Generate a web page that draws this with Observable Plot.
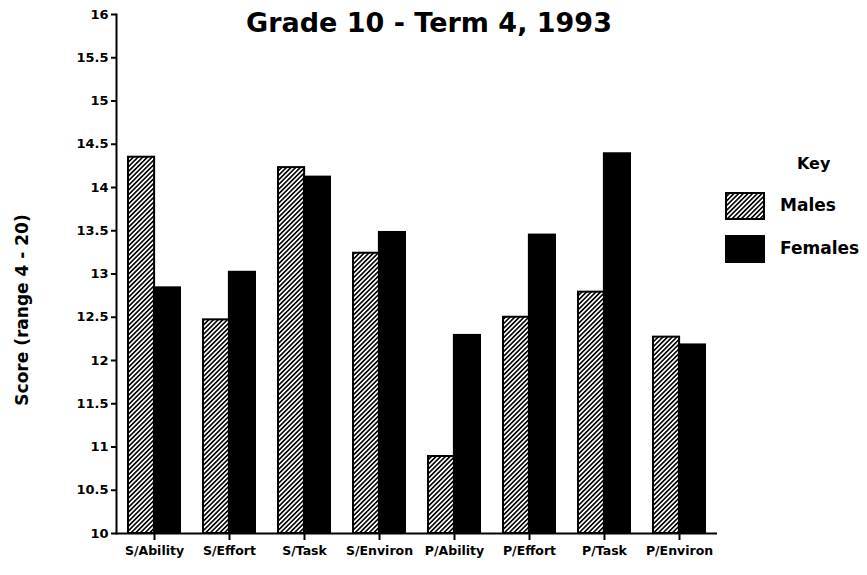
<!DOCTYPE html>
<html>
<head>
<meta charset="utf-8">
<script src="https://cdn.jsdelivr.net/npm/d3@7"></script>
<script src="https://cdn.jsdelivr.net/npm/@observablehq/plot@0.6"></script>
<style>
  html, body { margin: 0; padding: 0; background: #fff; }
  #wrap { position: relative; width: 867px; height: 575px; overflow: hidden; font-family: "DejaVu Sans", sans-serif; font-weight: bold; color: #000; }
  #title { position: absolute; top: 9px; left: 429px; transform: translateX(-50%); font-size: 27px; line-height: 1; white-space: nowrap; }
  #ylab { position: absolute; left: 22px; top: 310px; transform: translate(-50%, -50%) rotate(-90deg); font-size: 17px; line-height: 1; white-space: nowrap; }
  .lg { position: absolute; white-space: nowrap; line-height: 1; }
  #key { left: 797px; top: 156px; font-size: 16px; }
  .sw { position: absolute; left: 725px; width: 40px; height: 28px; }
  .lbl { left: 780px; font-size: 17px; }
</style>
</head>
<body>
<svg width="0" height="0" style="position:absolute">
  <defs>
    <pattern id="hatch" patternUnits="userSpaceOnUse" width="3.3" height="10" patternTransform="rotate(45)">
      <rect x="0" y="0" width="3.3" height="10" fill="#fff"></rect>
      <rect x="0" y="0" width="1.6" height="10" fill="#000"></rect>
    </pattern>
  </defs>
</svg>
<div id="wrap">
  <div id="chart"></div>
  <div id="title">Grade 10 - Term 4, 1993</div>
  <div id="ylab"></div>
  <div id="key" class="lg">Key</div>
  <svg class="sw" style="top:192px" width="40" height="28"><rect x="1" y="1" width="38" height="26" fill="url(#hatch)" stroke="#000" stroke-width="2"></rect></svg>
  <div class="lg lbl" style="top:197px">Males</div>
  <svg class="sw" style="top:235px" width="40" height="28"><rect x="1" y="1" width="38" height="26" fill="#000" stroke="#000" stroke-width="2"></rect></svg>
  <div class="lg lbl" style="top:240px">Females</div>
</div>
<script>
const categories = ["S/Ability", "S/Effort", "S/Task", "S/Environ", "P/Ability", "P/Effort", "P/Task", "P/Environ"];
const males   = [14.35, 12.47, 14.23, 13.24, 10.89, 12.50, 12.79, 12.27];
const females = [12.84, 13.02, 14.12, 13.48, 12.29, 13.45, 14.39, 12.18];
const yTicks = [10, 10.5, 11, 11.5, 12, 12.5, 13, 13.5, 14, 14.5, 15, 15.5, 16];
const yLabel = "Score (range 4 - 20)";

document.getElementById("ylab").textContent = yLabel;

const data = categories.map((c, i) => ({cat: c, male: males[i], female: females[i]}));

const W = 867, H = 575;
const mL = 116, mR = 150, mT = 14, mB = 42;
const padIn = 0.31, padOut = 0.16;
const bw = d3.scaleBand().domain(categories).range([mL, W - mR]).paddingInner(padIn).paddingOuter(padOut).bandwidth();

const plot = Plot.plot({
  width: W, height: H,
  marginLeft: mL, marginRight: mR, marginTop: mT, marginBottom: mB,
  style: {fontFamily: "DejaVu Sans, sans-serif", fontWeight: "bold", color: "#000", background: "transparent"},
  x: {domain: categories, paddingInner: padIn, paddingOuter: padOut, label: null},
  y: {domain: [10, 16], label: null},
  marks: [
    Plot.barY(data, {x: "cat", y1: 10, y2: "male", insetRight: bw / 2, fill: "url(#hatch)", stroke: "#000", strokeWidth: 2}),
    Plot.barY(data, {x: "cat", y1: 10, y2: "female", insetLeft: bw / 2, fill: "#000", stroke: "#000", strokeWidth: 2}),
    Plot.ruleY([10], {stroke: "#000", strokeWidth: 2}),
    Plot.frame({anchor: "left", stroke: "#000", strokeWidth: 2}),
    Plot.axisY({ticks: yTicks, tickFormat: d => String(d), tickSize: 5, tickPadding: 3, strokeWidth: 2, fontSize: 13, label: null}),
    Plot.axisX({tickSize: 7, tickPadding: 6, strokeWidth: 2, fontSize: 12.5, label: null})
  ]
});
document.getElementById("chart").appendChild(plot);
</script>
</body>
</html>
